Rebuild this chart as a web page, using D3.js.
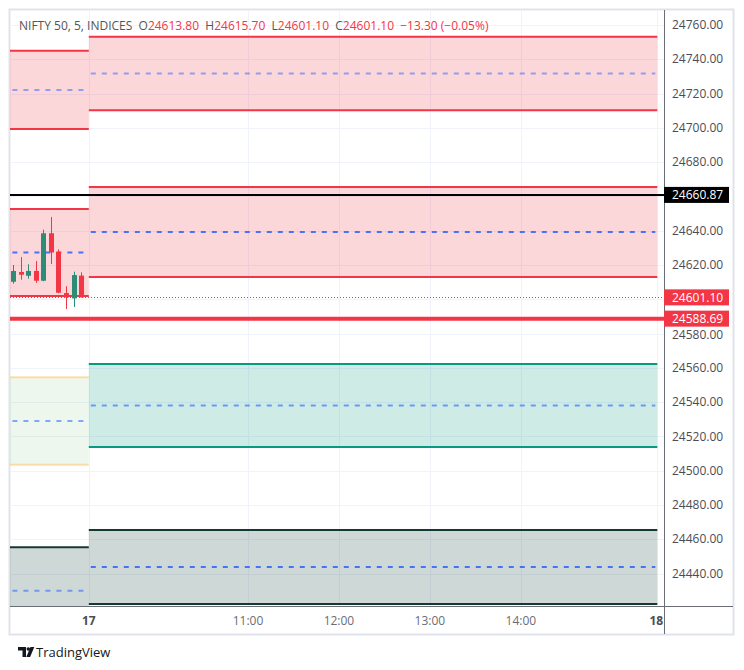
<!DOCTYPE html>
<html>
<head>
<meta charset="utf-8">
<script src="https://cdn.jsdelivr.net/npm/d3@7/dist/d3.min.js"></script>
<style>
  html, body { margin: 0; padding: 0; background: #ffffff; }
  svg { display: block; font-family: "Open Sans", "Noto Sans", sans-serif; }
</style>
</head>
<body>
<svg id="chart" width="744" height="670"></svg>
<script>
// ---------- data ----------
// bar index relative to the session open of the 17th (5-minute bars)
const candleIdx   = [-10, -9, -8, -7, -6, -5, -4, -3, -2, -1];
const candleOpen  = [24610.2, 24615.9, 24613.7, 24616.5, 24610.8, 24638.5, 24627.6, 24603.6, 24600.5, 24613.8];
const candleHigh  = [24620.0, 24624.6, 24620.4, 24622.3, 24640.6, 24648.0, 24629.1, 24607.6, 24616.1, 24615.7];
const candleLow   = [24609.1, 24611.4, 24612.0, 24609.6, 24610.5, 24620.6, 24603.5, 24594.3, 24595.5, 24601.1];
const candleClose = [24616.5, 24614.3, 24616.5, 24610.8, 24638.5, 24627.3, 24603.8, 24601.1, 24614.1, 24601.1];

// zones: start bar, end bar, top, bottom, kind
const zoneStart  = [-80, -80, -80, -80, 0, 0, 0, 0];
const zoneEnd    = [0, 0, 0, 0, 75, 75, 75, 75];
const zoneTop    = [24745.0, 24652.6, 24554.5, 24455.3, 24753.2, 24665.5, 24562.2, 24465.4];
const zoneBottom = [24699.3, 24601.9, 24503.5, 24404.6, 24710.2, 24613.0, 24513.8, 24422.2];
const zoneKind   = ["red", "red", "lightgreen", "dark", "red", "red", "teal", "dark"];
const zoneDashOp = [0.5, 0.85, 0.55, 0.55, 0.5, 0.85, 0.6, 0.85];

const levelValues = [24660.87, 24588.69];
const lastPrice = 24601.10;

const gridTicks  = [24760, 24740, 24720, 24700, 24680, 24660, 24640, 24620, 24600, 24580,
                    24560, 24540, 24520, 24500, 24480, 24460, 24440];
const priceLabels = [24760, 24740, 24720, 24700, 24680, 24640, 24620, 24580,
                     24560, 24540, 24520, 24500, 24480, 24460, 24440];
const timeTickIdx   = [0, 21, 33, 45, 57, 75];
const timeTickLabel = ["17", "11:00", "12:00", "13:00", "14:00", "18"];
const timeTickBold  = [true, false, false, false, false, true];

const headerParts = [
  ["NIFTY 50, 5, INDICES  O", "#555"], ["24613.80", "#f23645"],
  ["  H", "#555"], ["24615.70", "#f23645"],
  ["  L", "#555"], ["24601.10", "#f23645"],
  ["  C", "#555"], ["24601.10", "#f23645"],
  ["  \u221213.30 (\u22120.05%)", "#f23645"]
];

// ---------- layout ----------
const frame = {x0: 10, y0: 10, x1: 733, y1: 634};
const plot = {x0: 10, y0: 10, x1: 664, y1: 606};

const x = d3.scaleLinear().domain([0, 75]).range([88.8, 657.3]);
const y = d3.scaleLinear().domain([24440, 24760]).range([573.5, 25]);

const svg = d3.select("#chart");

svg.append("defs").append("clipPath").attr("id", "plotclip")
  .append("rect").attr("x", plot.x0).attr("y", plot.y0)
  .attr("width", plot.x1 - plot.x0).attr("height", plot.y1 - plot.y0);

// frame
svg.append("rect").attr("x", frame.x0 - 0.5).attr("y", frame.y0 - 0.5)
  .attr("width", frame.x1 - frame.x0 + 1).attr("height", frame.y1 - frame.y0 + 1)
  .attr("fill", "#fff").attr("stroke", "#e0e3eb").attr("stroke-width", 2);

const g = svg.append("g").attr("clip-path", "url(#plotclip)");

// grid
g.selectAll(".hg").data(gridTicks).join("line")
  .attr("x1", plot.x0).attr("x2", plot.x1)
  .attr("y1", d => Math.round(y(d)) + 0.5).attr("y2", d => Math.round(y(d)) + 0.5)
  .attr("stroke", "#f0f3fa").attr("stroke-width", 1);
g.selectAll(".vg").data(timeTickIdx).join("line")
  .attr("x1", d => Math.round(x(d)) + 0.5).attr("x2", d => Math.round(x(d)) + 0.5)
  .attr("y1", plot.y0).attr("y2", plot.y1)
  .attr("stroke", "#f0f3fa").attr("stroke-width", 1);

// zones
const fills = {red: "rgba(242,54,69,0.2)", teal: "rgba(8,153,129,0.2)",
               lightgreen: "rgba(76,175,80,0.1)", dark: "rgba(10,60,48,0.2)"};
const borders = {red: "#f23645", teal: "#089981", lightgreen: "rgba(255,183,77,0.45)", dark: "#143a30"};

const zones = zoneTop.map((t, i) => ({s: zoneStart[i], e: zoneEnd[i], t, b: zoneBottom[i], k: zoneKind[i], op: zoneDashOp[i]}));
const zg = g.append("g");
zones.forEach(z => {
  const xs = x(z.s), xe = x(z.e);
  zg.append("rect").attr("x", xs).attr("y", y(z.t)).attr("width", xe - xs)
    .attr("height", y(z.b) - y(z.t)).attr("fill", fills[z.k]);
  [z.t, z.b].forEach(v => {
    zg.append("line").attr("x1", xs).attr("x2", xe).attr("y1", y(v)).attr("y2", y(v))
      .attr("stroke", borders[z.k]).attr("stroke-width", 2);
  });
  const mid = (z.t + z.b) / 2;
  zg.append("line").attr("x1", xs).attr("x2", xe - 2).attr("y1", y(mid)).attr("y2", y(mid))
    .attr("stroke", "#2962ff").attr("stroke-opacity", z.op).attr("stroke-width", 2)
    .attr("stroke-dasharray", "5,6").attr("stroke-dashoffset", -2);
});

// levels
g.append("line").attr("x1", plot.x0).attr("x2", plot.x1)
  .attr("y1", y(levelValues[0])).attr("y2", y(levelValues[0]))
  .attr("stroke", "#000").attr("stroke-width", 2);
g.append("line").attr("x1", plot.x0).attr("x2", plot.x1)
  .attr("y1", y(levelValues[1])).attr("y2", y(levelValues[1]))
  .attr("stroke", "#f23645").attr("stroke-width", 4);
g.append("line").attr("x1", plot.x0).attr("x2", plot.x1)
  .attr("y1", Math.round(y(lastPrice)) + 0.5).attr("y2", Math.round(y(lastPrice)) + 0.5)
  .attr("stroke", "#f23645").attr("stroke-width", 1).attr("stroke-dasharray", "1,2");

// candles
const candles = candleIdx.map((d, i) => ({i: d, o: candleOpen[i], h: candleHigh[i], l: candleLow[i], c: candleClose[i]}));
const cg = g.append("g");
candles.forEach(d => {
  const col = d.c >= d.o ? "#2e8c76" : "#f23645";
  const cx = Math.round(x(d.i));
  cg.append("line").attr("x1", cx + 0.5).attr("x2", cx + 0.5).attr("y1", y(d.h)).attr("y2", y(d.l))
    .attr("stroke", col).attr("stroke-width", 1);
  const top = y(Math.max(d.o, d.c)), bot = y(Math.min(d.o, d.c));
  cg.append("rect").attr("x", cx - 2).attr("y", top).attr("width", 5)
    .attr("height", Math.max(1, bot - top)).attr("fill", col);
});

// axes lines
svg.append("line").attr("x1", plot.x1 + 0.5).attr("x2", plot.x1 + 0.5)
  .attr("y1", frame.y0).attr("y2", frame.y1).attr("stroke", "#6a6d78").attr("stroke-width", 1);
svg.append("line").attr("x1", frame.x0).attr("x2", frame.x1)
  .attr("y1", plot.y1 + 0.5).attr("y2", plot.y1 + 0.5).attr("stroke", "#6a6d78").attr("stroke-width", 1);

// price axis labels
svg.append("g").selectAll("text").data(priceLabels).join("text")
  .attr("x", 672).attr("y", d => y(d) + (d === 24580 ? 1.5 : 0)).attr("dy", "0.35em")
  .attr("font-size", 12).attr("fill", "#4a4d57")
  .text(d => d3.format(".2f")(d));

// price tags
function tag(v, bg) {
  const cy = y(v);
  svg.append("rect").attr("x", plot.x1).attr("y", cy - 8).attr("width", 65).attr("height", 16)
    .attr("fill", bg);
  svg.append("text").attr("x", 672).attr("y", cy).attr("dy", "0.36em")
    .attr("font-size", 12).attr("fill", "#fff").text(d3.format(".2f")(v));
}
tag(levelValues[0], "#000");
tag(lastPrice, "#f23645");
tag(levelValues[1], "#f23645");

// time axis labels
svg.append("g").selectAll("text").data(timeTickIdx).join("text")
  .attr("x", (d, i) => i === timeTickIdx.length - 1 ? x(d) - 1 : x(d))
  .attr("y", 621).attr("dy", "0.35em").attr("text-anchor", "middle")
  .attr("font-size", 12)
  .attr("font-weight", (d, i) => timeTickBold[i] ? 700 : 400)
  .attr("fill", (d, i) => timeTickBold[i] ? "#4a4d57" : "#6a6d78")
  .text((d, i) => timeTickLabel[i]);

// header
const ht = svg.append("text").attr("x", 19).attr("y", 29.5).attr("font-size", 12).attr("xml:space", "preserve");
headerParts.forEach(p => ht.append("tspan").attr("fill", p[1]).text(p[0]));

// TradingView logo
const lg = svg.append("g").attr("fill", "#131722");
lg.append("path").attr("d", "M18,647 h8 v10 h-3.5 v-6.5 h-4.5 z");
lg.append("circle").attr("cx", 28.3).attr("cy", 649).attr("r", 1.8);
lg.append("path").attr("d", "M30.5,647 h3.8 l-4.2,10 h-3.8 z");
svg.append("text").attr("x", 36).attr("y", 657).attr("font-size", 13).attr("fill", "#131722")
  .text("TradingView");
</script>
</body>
</html>
